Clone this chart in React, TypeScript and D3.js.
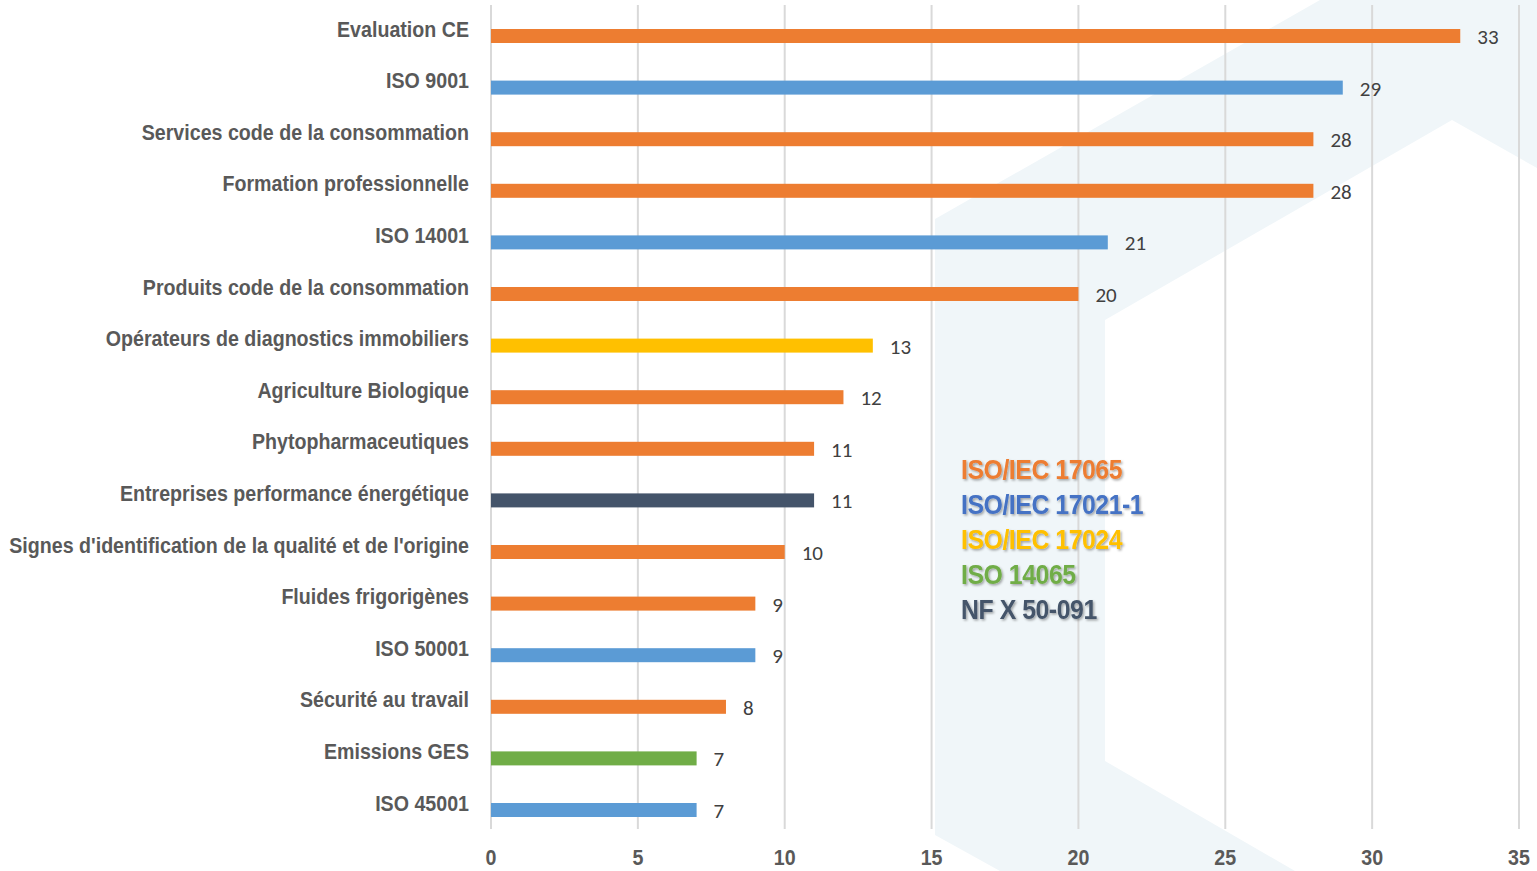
import { useEffect, useRef } from "react";
import * as d3 from "d3";

const categories = [
  "Evaluation CE",
  "ISO 9001",
  "Services code de la consommation",
  "Formation professionnelle",
  "ISO 14001",
  "Produits code de la consommation",
  "Opérateurs de diagnostics immobiliers",
  "Agriculture Biologique",
  "Phytopharmaceutiques",
  "Entreprises performance énergétique",
  "Signes d'identification de la qualité et de l'origine",
  "Fluides frigorigènes",
  "ISO 50001",
  "Sécurité au travail",
  "Emissions GES",
  "ISO 45001",
];

const values = [33, 29, 28, 28, 21, 20, 13, 12, 11, 11, 10, 9, 9, 8, 7, 7];

// which standard each category falls under (index into legendLabels)
const standards = [0, 1, 0, 0, 1, 0, 2, 0, 0, 4, 0, 0, 1, 0, 3, 1];

const legendLabels = ["ISO/IEC 17065", "ISO/IEC 17021-1", "ISO/IEC 17024", "ISO 14065", "NF X 50-091"];
const barColors = ["#ED7D31", "#5B9BD5", "#FFC000", "#70AD47", "#44546A"];
const legendColors = ["#ED7D31", "#4472C4", "#FFC000", "#70AD47", "#44546A"];

const xTicks = [0, 5, 10, 15, 20, 25, 30, 35];

const W = 1537;
const H = 871;

export default function App() {
  const svgRef = useRef<SVGSVGElement>(null);

  useEffect(() => {
    if (!svgRef.current) return;
    const svg = d3.select(svgRef.current);
    svg.selectAll("*").remove();

    const sans = "'Liberation Sans', Arial, sans-serif";

    const x = d3.scaleLinear().domain([0, 35]).range([491, 1519]);
    const y = d3.scalePoint<string>().domain(categories).range([36, 810]);
    const barH = 14;

    // no condensed font installed: measure the longest label and squeeze horizontally
    const probe = svg.append("text")
      .attr("font-family", sans)
      .attr("font-weight", "bold")
      .attr("font-size", 22)
      .text(categories[10]);
    const longest = (probe.node() as SVGTextElement).getComputedTextLength();
    probe.remove();
    const k = 460 / longest;

    // drop shadow for legend text
    const defs = svg.append("defs");
    const f = defs.append("filter").attr("id", "shadow").attr("x", "-10%").attr("y", "-20%").attr("width", "120%").attr("height", "150%");
    f.append("feDropShadow")
      .attr("dx", 1.5)
      .attr("dy", 1.5)
      .attr("stdDeviation", 1)
      .attr("flood-color", "#000")
      .attr("flood-opacity", 0.35);

    // light watermark arrow in the background
    const shape: [number, number][] = [
      [935, 219], [1320, 0], [1537, 0], [1537, 168], [1452, 120], [1105, 320],
      [1105, 761], [1295, 871], [1000, 871], [935, 835],
    ];
    svg.append("path")
      .attr("d", d3.line()(shape) + "Z")
      .attr("fill", "#f0f6f9");

    // vertical gridlines
    svg.append("g")
      .selectAll("line")
      .data(xTicks)
      .join("line")
      .attr("x1", d => x(d))
      .attr("x2", d => x(d))
      .attr("y1", 5)
      .attr("y2", 829)
      .attr("stroke", "#d9d9d9")
      .attr("stroke-width", 2);

    // x tick labels
    svg.append("g")
      .selectAll("text")
      .data(xTicks)
      .join("text")
      .attr("transform", d => `translate(${x(d)},865) scale(${k},1)`)
      .attr("text-anchor", "middle")
      .attr("font-family", sans)
      .attr("font-weight", "bold")
      .attr("font-size", 22)
      .attr("fill", "#595959")
      .text(d => d);

    // bars
    svg.append("g")
      .selectAll("rect")
      .data(categories)
      .join("rect")
      .attr("x", x(0))
      .attr("y", d => (y(d) as number) - barH / 2)
      .attr("width", (_, i) => x(values[i]) - x(0))
      .attr("height", barH)
      .attr("fill", (_, i) => barColors[standards[i]]);

    // category labels
    svg.append("g")
      .selectAll("text")
      .data(categories)
      .join("text")
      .attr("transform", d => `translate(469,${(y(d) as number) + 0.5}) scale(${k},1)`)
      .attr("text-anchor", "end")
      .attr("font-family", sans)
      .attr("font-weight", "bold")
      .attr("font-size", 22)
      .attr("fill", "#595959")
      .text(d => d);

    // value labels
    svg.append("g")
      .selectAll("text")
      .data(categories)
      .join("text")
      .attr("x", (_, i) => x(values[i]) + 17)
      .attr("y", d => (y(d) as number) + 8)
      .attr("font-family", "Carlito, Calibri, Lato, sans-serif")
      .attr("font-size", 21)
      .attr("fill", "#404040")
      .text((_, i) => values[i]);

    // legend
    svg.append("g")
      .selectAll("text")
      .data(legendLabels)
      .join("text")
      .attr("transform", (_, i) => `translate(961,${479 + i * 35}) scale(0.92,1)`)
      .attr("font-family", sans)
      .attr("font-weight", "bold")
      .attr("font-size", 27)
      .attr("letter-spacing", -0.5)
      .attr("fill", (_, i) => legendColors[i])
      .attr("filter", "url(#shadow)")
      .text(d => d);
  }, []);

  return (
    <svg
      ref={svgRef}
      width={W}
      height={H}
      viewBox={`0 0 ${W} ${H}`}
      style={{ position: "absolute", left: 0, top: 0, background: "#fff" }}
    />
  );
}
